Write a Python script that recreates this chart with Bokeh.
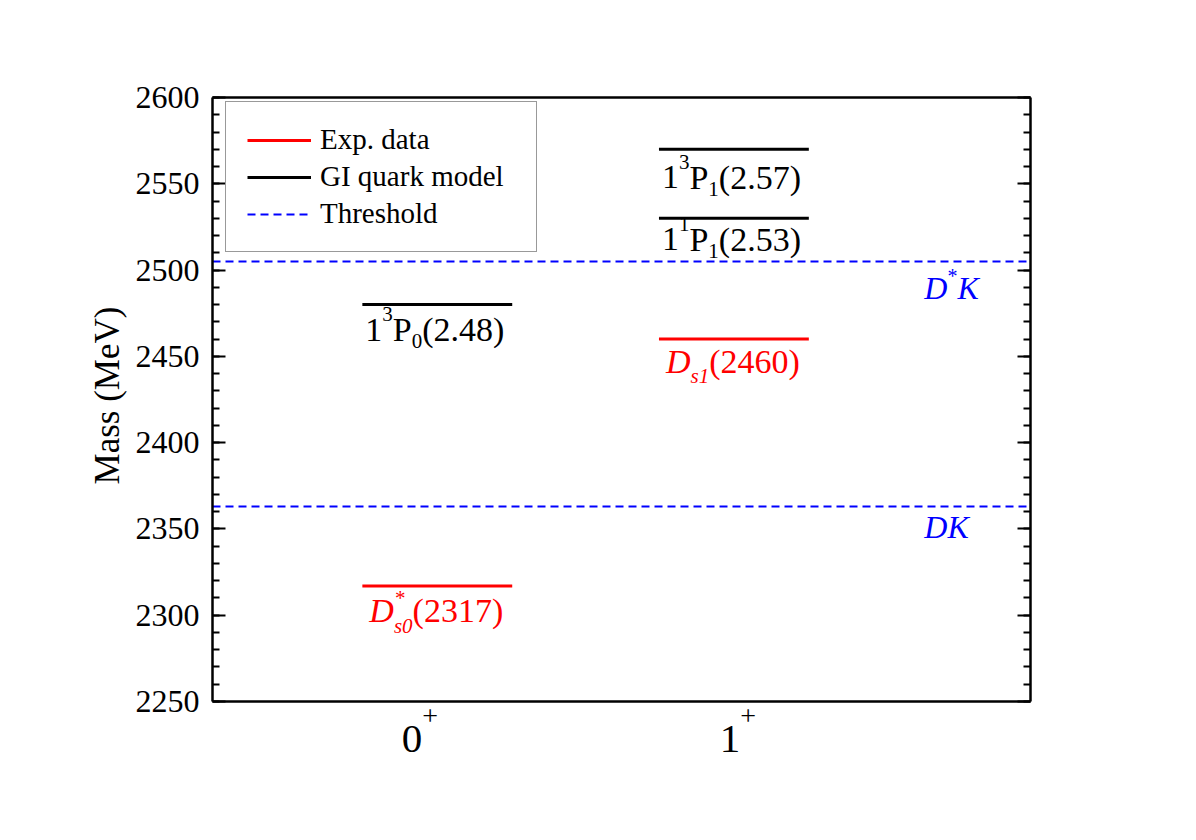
import math

from bokeh.plotting import figure
from bokeh.models import (Range1d, LinearAxis, SingleIntervalTicker, Label,
                          Legend, LegendItem)
from bokeh.embed import file_html
from bokeh.resources import INLINE

# ---- data ---------------------------------------------------------------
# J^P columns on the x axis
jp_pos = [1, 2]
jp_num = ["0", "1"]
jp_parity = ["+", "+"]

# experimental masses (MeV) and the x extent of each level bar
exp_mass = [2317, 2460]
exp_x0 = [0.80, 1.75]
exp_x1 = [1.28, 2.23]

# GI quark model predictions (MeV)
gi_mass = [2480, 2570, 2530]
gi_x0 = [0.80, 1.75, 1.75]
gi_x1 = [1.28, 2.23, 2.23]

# two-meson thresholds (MeV)
thr_mass = [2363, 2505]

X_LO, X_HI = 0.32, 2.94
Y_LO, Y_HI = 2250, 2600

SERIF = "Liberation Serif"
RED, BLUE, BLACK = "#ff0000", "#0000ff", "#000000"

# ---- geometry ------------------------------------------------------------
# The drawing area fills the whole page; the axes sit at fixed data
# positions so that every label around the box is an ordinary annotation.
W, H = 1196, 840
BOX_L, BOX_R, BOX_T, BOX_B = 212, 1030, 97, 701
pxx = (BOX_R - BOX_L) / (X_HI - X_LO)
pxy = (BOX_B - BOX_T) / (Y_HI - Y_LO)
x_start, x_end = X_LO - BOX_L / pxx, X_HI + (W - BOX_R) / pxx
y_start, y_end = Y_LO - (H - BOX_B) / pxy, Y_HI + BOX_T / pxy

p = figure(width=W, height=H, output_backend="svg", toolbar_location=None,
           x_range=Range1d(x_start, x_end), y_range=Range1d(y_start, y_end),
           min_border=0)
p.background_fill_color = "white"
p.border_fill_color = "white"
p.outline_line_color = None
p.grid.visible = False
p.xaxis.visible = False

ticker = SingleIntervalTicker(interval=50, num_minor_ticks=5)
tick_style = dict(axis_line_width=2.5, axis_line_color=BLACK,
                  major_tick_in=13, major_tick_out=0,
                  minor_tick_in=7, minor_tick_out=0,
                  major_tick_line_width=2, minor_tick_line_width=2)

ya = p.yaxis[0]
ya.ticker = ticker
ya.bounds = (Y_LO, Y_HI)
ya.fixed_location = X_LO
for k, v in tick_style.items():
    setattr(ya, k, v)
ya.major_label_text_font = SERIF
ya.major_label_text_font_size = "32px"
ya.major_label_text_color = BLACK
ya.major_label_standoff = 13

ra = LinearAxis(ticker=ticker, bounds=(Y_LO, Y_HI), fixed_location=X_HI,
                major_label_overrides={v: "" for v in range(Y_LO, Y_HI + 1, 50)},
                **tick_style)
p.add_layout(ra, "right")

# top and bottom edges of the box
p.segment(x0=[X_LO, X_LO], x1=[X_HI, X_HI], y0=[Y_LO, Y_HI], y1=[Y_LO, Y_HI],
          line_color=BLACK, line_width=2.5)

# y axis title
p.add_layout(Label(x=X_LO, y=(Y_LO + Y_HI) / 2, x_offset=-105, y_offset=4,
                   text="Mass (MeV)", angle=math.pi / 2, text_font=SERIF,
                   text_font_size="35px", text_color=BLACK,
                   text_align="center", text_baseline="middle"))

# ---- level bars and thresholds ------------------------------------------
r_exp = p.segment(x0=exp_x0, x1=exp_x1, y0=exp_mass, y1=exp_mass,
                  line_color=RED, line_width=3)
r_gi = p.segment(x0=gi_x0, x1=gi_x1, y0=gi_mass, y1=gi_mass,
                 line_color=BLACK, line_width=3)
r_thr = p.segment(x0=[X_LO] * len(thr_mass), x1=[X_HI] * len(thr_mass),
                  y0=thr_mass, y1=thr_mass,
                  line_color=BLUE, line_width=2, line_dash="8 5")

legend = Legend(items=[LegendItem(label="Exp. data", renderers=[r_exp]),
                       LegendItem(label="GI quark model", renderers=[r_gi]),
                       LegendItem(label="Threshold", renderers=[r_thr])],
                location=(BOX_L + 13, H - 252), margin=0, padding=21, spacing=4,
                glyph_width=64, glyph_height=20, label_height=20,
                label_width=195, label_standoff=9, label_text_font=SERIF,
                label_text_font_size="29px", label_text_color=BLACK,
                border_line_color="#333333", border_line_width=1.5,
                background_fill_color="white", background_fill_alpha=1)
p.add_layout(legend, "center")

# ---- rich text built from pieces ----------------------------------------
ADV = {c: 0.5 for c in "0123456789*"}
ADV.update({".": 0.25, "(": 0.333, ")": 0.333, "P": 0.556, "+": 0.564,
            "D": 0.722, "K": 0.667, "s": 0.389})
RAISE = 0.35  # lift per px of font size so the glyph baseline sits on y


def adv(s, size):
    return sum(ADV.get(c, 0.5) for c in s) * size


def rich(x, y, parts, color, dx=0.0, dy=0.0, main=34, small=21,
         sup_up=20, sub_down=7, align="left"):
    segs, cur = [], 0.0
    for part in parts:
        kind = part[0]
        if kind == "n":
            segs.append((cur, 0, part[1], main, part[2]))
            cur += adv(part[1], main)
        elif kind == "sup":
            segs.append((cur, sup_up, part[1], small, part[2]))
            cur += adv(part[1], small)
        elif kind == "sub":
            segs.append((cur, -sub_down, part[1], small, part[2]))
            cur += adv(part[1], small)
        else:  # stacked superscript over subscript
            segs.append((cur, sup_up, part[1], small, part[3]))
            segs.append((cur, -sub_down, part[2], small, part[3]))
            cur += max(adv(part[1], small), adv(part[2], small))
    shift = -cur / 2 if align == "center" else 0.0
    for ox, oy, txt, size, it in segs:
        p.add_layout(Label(x=x, y=y, x_offset=dx + shift + ox,
                           y_offset=dy + oy + RAISE * size,
                           text=txt, text_font=SERIF, text_font_size=f"{size}px",
                           text_font_style="italic" if it else "normal",
                           text_color=color, text_align="left",
                           text_baseline="alphabetic"))


# GI model labels: 1^3P_0, 1^3P_1, 1^1P_1
gi_parts = [
    [("n", "1", False), ("sup", "3", False), ("n", "P", False),
     ("sub", "0", False), ("n", "(2.48)", False)],
    [("n", "1", False), ("sup", "3", False), ("n", "P", False),
     ("sub", "1", False), ("n", "(2.57)", False)],
    [("n", "1", False), ("sup", "1", False), ("n", "P", False),
     ("sub", "1", False), ("n", "(2.53)", False)],
]
gi_dy = [-37, -40, -33]
for x0, m, parts, dy in zip(gi_x0, gi_mass, gi_parts, gi_dy):
    rich(x0, m, parts, BLACK, dx=3, dy=dy)

# experimental labels: D*_s0(2317), D_s1(2460)
exp_parts = [
    [("n", "D", True), ("ss", "*", "s0", True), ("n", "(2317)", False)],
    [("n", "D", True), ("sub", "s1", True), ("n", "(2460)", False)],
]
exp_dy = [-37, -34]
for x0, m, parts, dy in zip(exp_x0, exp_mass, exp_parts, exp_dy):
    rich(x0, m, parts, RED, dx=7, dy=dy, small=21, sup_up=18, sub_down=10)

# threshold labels: DK, D*K
thr_parts = [
    [("n", "DK", True)],
    [("n", "D", True), ("sup", "*", False), ("n", "K", True)],
]
thr_dy = [-32, -38]
for m, parts, dy in zip(thr_mass, thr_parts, thr_dy):
    rich(2.6, m, parts, BLUE, dy=dy, main=32, small=20, sup_up=16)

# J^P labels 0^+ and 1^+ under the box
jp_dx = [-5, 1]
for xp, num, par, dx in zip(jp_pos, jp_num, jp_parity, jp_dx):
    rich(xp, Y_LO, [("n", num, False), ("sup", par, False)], BLACK,
         dx=dx, dy=-52, main=41, small=28, sup_up=28, align="center")

open("out.html", "w").write(file_html(p, INLINE))
